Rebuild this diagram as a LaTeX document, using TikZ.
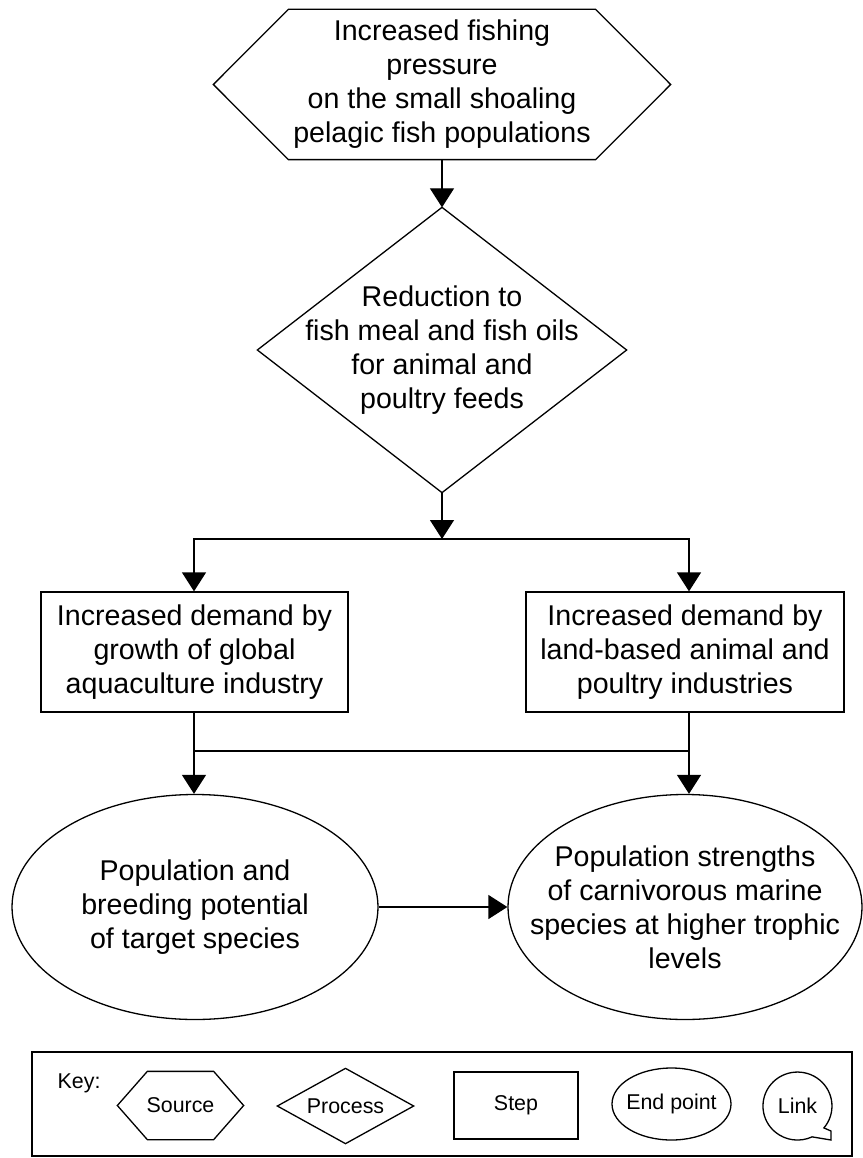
\documentclass[tikz,border=0pt]{standalone}
\usepackage{fontspec}
\setmainfont{Liberation Sans}
\usetikzlibrary{arrows.meta}
\begin{document}
\begin{tikzpicture}[x=1pt,y=-1pt,
  line width=1.3pt,
  txt/.style={font=\fontsize{28.6}{34}\selectfont, align=center, inner sep=0pt},
  keytxt/.style={font=\fontsize{21.4}{25}\selectfont, align=center, inner sep=0pt},
  frame/.style={draw=none, rectangle, inner sep=0pt},
  stepbox/.style={draw, rectangle, inner sep=0pt},
  arr/.style={-{Triangle[length=19pt,width=24pt]}},
]
\useasboundingbox (0,0) rectangle (862,1158);

% ---- source (hexagon)
\node[frame, txt, minimum width=456pt, minimum height=149pt] (src) at (442,84.5)
  {Increased fishing\\pressure\\on the small shoaling\\pelagic fish populations};
\draw (src.west) -- ([xshift=75pt]src.north west) -- ([xshift=-75pt]src.north east)
  -- (src.east) -- ([xshift=-75pt]src.south east) -- ([xshift=75pt]src.south west) -- cycle;

% ---- process (diamond)
\node[frame, txt, minimum width=368pt, minimum height=284pt] (proc) at (442,350)
  {Reduction to\\fish meal and fish oils\\for animal and\\poultry feeds};
\draw (proc.north) -- (proc.east) -- (proc.south) -- (proc.west) -- cycle;

% ---- steps
\node[stepbox, txt, minimum width=307pt, minimum height=120pt] (boxL) at (194.5,652)
  {Increased demand by\\growth of global\\aquaculture industry};
\node[stepbox, txt, minimum width=318pt, minimum height=120pt] (boxR) at (685,652)
  {Increased demand by\\land-based animal and\\poultry industries};

% ---- end points (ellipses)
\node[frame, txt, minimum width=366pt, minimum height=225pt] (ellL) at (195,907)
  {Population and\\breeding potential\\of target species};
\draw (ellL.center) ellipse [x radius=183, y radius=112.5];
\node[frame, txt, minimum width=354pt, minimum height=225pt] (ellR) at (685,907)
  {Population strengths\\of carnivorous marine\\species at higher trophic\\levels};
\draw (ellR.center) ellipse [x radius=177, y radius=112.5];

% ---- connectors
\coordinate (split) at (442,539);
\coordinate (cl) at (194,539);
\coordinate (cr) at (689,539);
\coordinate (ml) at (194,751);
\coordinate (mr) at (689,751);

\draw[arr] (src.south) -- (proc.north);
\draw[arr] (proc.south) -- (split);
\draw[arr] (split) -- (cl) -- (cl |- boxL.north);
\draw[arr] (split) -- (cr) -- (cr |- boxR.north);
\draw[arr] (cl |- boxL.south) -- (cl |- ellL.north);
\draw[arr] (cr |- boxR.south) -- (cr |- ellR.north);
\draw (ml) -- (mr);
\draw[arr] (ellL.east) -- (ellR.west);

% ---- key
\node[draw, rectangle, inner sep=0pt, minimum width=820pt, minimum height=104pt] (key) at (442,1104) {};
\node[keytxt, anchor=west] (keylbl) at (57,1083) {Key:};

\node[frame, keytxt, minimum width=125pt, minimum height=67pt] (ksrc) at (180.5,1105.5) {Source};
\draw (ksrc.west) -- ([xshift=30pt]ksrc.north west) -- ([xshift=-30pt]ksrc.north east)
  -- (ksrc.east) -- ([xshift=-30pt]ksrc.south east) -- ([xshift=30pt]ksrc.south west) -- cycle;

\node[frame, keytxt, minimum width=135pt, minimum height=74pt] (kproc) at (345.5,1106) {Process};
\draw (kproc.north) -- (kproc.east) -- (kproc.south) -- (kproc.west) -- cycle;

\node[stepbox, keytxt, minimum width=124pt, minimum height=67pt] (kstep) at (516,1105.5) {Step};

\node[frame, keytxt, minimum width=119pt, minimum height=72pt] (kend) at (671.5,1104) {End point};
\draw (kend.center) ellipse [x radius=59.5, y radius=36];

\node[frame, keytxt, minimum width=69pt, minimum height=68pt] (klink) at (797.5,1106) {Link};
\begin{scope}[shift={(klink.center)}]
  \draw (26.4,21.9) arc [start angle=40, end angle=-295, x radius=34.5, y radius=34]
    -- (33.5,34) -- (33.5,25) -- cycle;
\end{scope}
\end{tikzpicture}
\end{document}
